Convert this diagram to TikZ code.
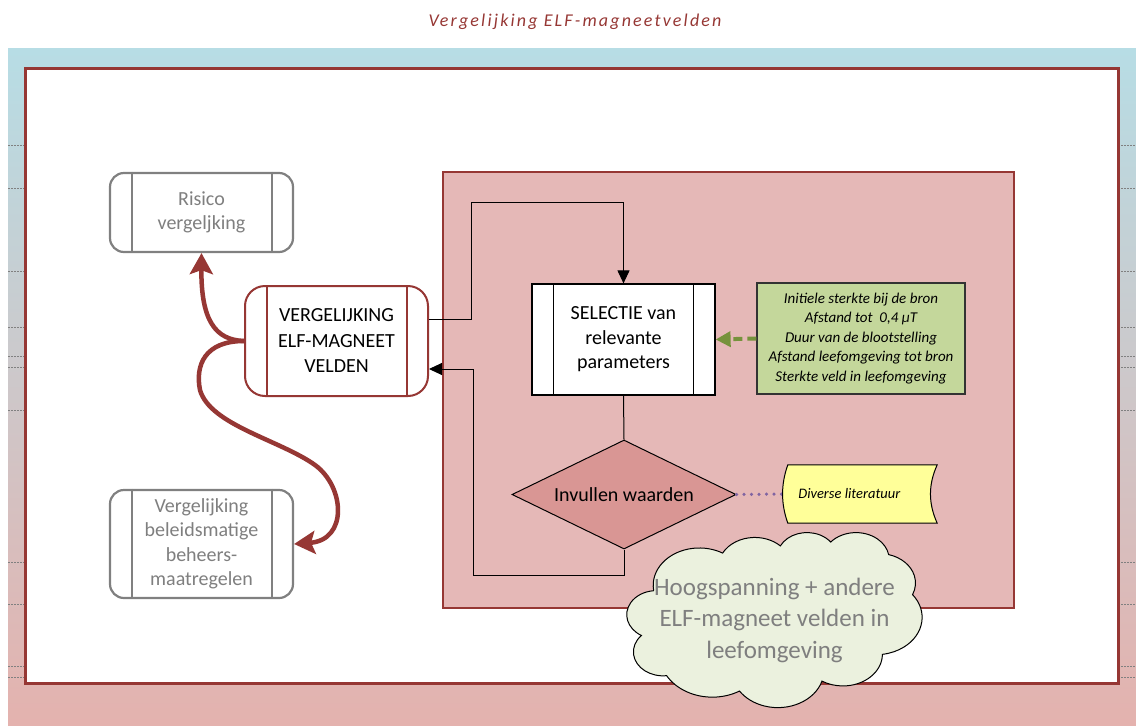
\documentclass[tikz,border=0pt]{standalone}
\usepackage{fontspec}
\setmainfont{Carlito}
\newfontfamily\titlefont[LetterSpace=12]{Carlito}
\usetikzlibrary{arrows.meta,shapes.geometric}

\definecolor{frame}{RGB}{150,55,52}
\definecolor{bgtop}{RGB}{183,221,229}
\definecolor{bgbot}{RGB}{228,178,174}
\definecolor{panel}{RGB}{229,184,183}
\definecolor{boxgray}{RGB}{128,128,128}
\definecolor{txtgray}{RGB}{127,127,127}
\definecolor{paramfill}{RGB}{196,215,155}
\definecolor{paramarrow}{RGB}{118,146,60}
\definecolor{diafill}{RGB}{217,150,148}
\definecolor{litfill}{RGB}{255,255,153}
\definecolor{litline}{RGB}{128,100,162}
\definecolor{cloudfill}{RGB}{235,241,222}

\begin{document}
\begin{tikzpicture}[x=1pt,y=-1pt,
  subgray/.style={rectangle, draw=boxgray, line width=2.2pt, rounded corners=14pt,
    fill=white, minimum width=183pt, inner sep=0pt, align=center, text=txtgray,
    font=\fontsize{20}{24.5}\selectfont},
  subred/.style={rectangle, draw=frame, line width=2pt, rounded corners=20pt,
    fill=white, minimum width=183pt, minimum height=110pt, inner sep=0pt,
    align=center, font=\fontsize{20}{25.5}\selectfont},
  subblack/.style={rectangle, draw=black, line width=1.2pt, fill=white,
    minimum width=183pt, minimum height=111pt, inner sep=0pt, align=center,
    font=\fontsize{20}{24.5}\selectfont},
  parambox/.style={rectangle, draw=black!80, line width=1.2pt, fill=paramfill,
    minimum width=208pt, minimum height=111pt, inner sep=0pt, align=center,
    font=\itshape\fontsize{15}{19.5}\selectfont},
  decide/.style={diamond, aspect=2.05, draw=black, line width=1pt, fill=diafill,
    minimum width=224pt, minimum height=109pt, inner sep=0pt,
    font=\fontsize{20}{24}\selectfont},
  flow/.style={draw=black, line width=1pt, -{Triangle[length=13pt,width=12pt]}},
  bigflow/.style={draw=frame, line width=4.5pt,
    -{Stealth[length=21pt,width=23pt,inset=4pt]}},
]
\useasboundingbox (0,0) rectangle (1136,726);

% page background with ruler marks
\shade[top color=bgtop, bottom color=bgbot] (8,48) rectangle (1136,726);
\foreach \yy in {145,188,271,327,356,367,410,562,604,666,677}
  \draw[boxgray, line width=0.6pt, dash pattern=on 2pt off 1pt] (8,\yy) -- (1136,\yy);

% outer frame and process panel
\draw[frame, line width=3pt, fill=white] (25,68) rectangle (1118,683);
\draw[frame, line width=2.5pt, fill=panel] (443,172) rectangle (1014,608);

% title
\node[font=\titlefont\itshape\fontsize{18}{22}\selectfont, text=frame] (title) at (575,22)
  {Vergelijking ELF-magneetvelden};

% boxes
\node[subgray, minimum height=79pt] (risk) at (201.5,212.5) {Risico\\vergeljking};
\node[subgray, minimum height=108pt] (beleid) at (201.5,544)
  {Vergelijking\\beleidsmatige\\beheers-\\maatregelen};
\node[subred] (verg) at (336.5,341) {VERGELIJKING\\ELF-MAGNEET\\VELDEN};
\node[subblack] (sel) at (623.5,339.5) {SELECTIE van\\relevante\\parameters};
\node[parambox] (param) at (861,338.5)
  {Initiele sterkte bij de bron\\Afstand tot~~0,4 \textmu T\\Duur van de blootstelling\\
   Afstand leefomgeving tot bron\\Sterkte veld in leefomgeving};
\node[decide] (dia) at (624,494.5) {Invullen waarden};

% side bars of the predefined-process boxes
\foreach \n in {risk,beleid}{
  \draw[boxgray, line width=2.2pt] ([xshift=23pt]\n.north west) -- ([xshift=23pt]\n.south west);
  \draw[boxgray, line width=2.2pt] ([xshift=-22pt]\n.north east) -- ([xshift=-22pt]\n.south east);
}
\draw[frame, line width=2pt] ([xshift=23pt]verg.north west) -- ([xshift=23pt]verg.south west);
\draw[frame, line width=2pt] ([xshift=-22pt]verg.north east) -- ([xshift=-22pt]verg.south east);
\draw[black, line width=1.2pt] ([xshift=22pt]sel.north west) -- ([xshift=22pt]sel.south west);
\draw[black, line width=1.2pt] ([xshift=-22pt]sel.north east) -- ([xshift=-22pt]sel.south east);

% literature store
\node[minimum width=149pt, minimum height=58pt, inner sep=0pt] (lit) at (862.5,494) {};
\draw[litline, line width=3.5pt, line cap=round, dash pattern=on 0pt off 7.5pt]
  (dia.east) -- ([xshift=-5pt]lit.west);
\draw[black, line width=1pt, fill=litfill]
  (lit.north west) -- (lit.north east)
  .. controls +(-9,20) and +(-9,-20) .. (lit.south east) -- (lit.south west)
  .. controls +(-7,-20) and +(-7,20) .. (lit.north west) -- cycle;
\node[anchor=west, font=\itshape\fontsize{14.5}{17}\selectfont] (littext)
  at ([xshift=7pt]lit.west) {Diverse literatuur};

% flow connectors
\coordinate (c1) at (471,202);
\coordinate (c2) at (473,575);
\draw[flow] ([yshift=22pt]verg.east) -| (c1) -| (sel.north);
\draw[draw=black, line width=1pt] (sel.south) -- (dia.north);
\draw[flow] (dia.south) |- (c2) |- ([yshift=-28pt]verg.east);
\draw[paramarrow, line width=4pt, dash pattern=on 9pt off 5pt,
  -{Triangle[length=15pt,width=15pt]}] (param.west) -- (sel.east);

% outcome arrows
\draw[bigflow] (verg.west) .. controls (215,340) and (201,320) .. (risk.south);
\draw[bigflow] (verg.west) .. controls (205,341) and (195,365) .. (200,390)
  .. controls (210,425) and (280,440) .. (315,465)
  .. controls (345,487) and (348,540) .. (beleid.east);

% environment cloud, outline built from eleven elliptic puffs (percent units)
\begin{scope}[xshift=627pt, yshift=-532pt, x=2.95pt, y=-1.75pt]
\draw[black, line width=1pt, fill=cloudfill] (9.028,33.264)
  arc[start angle=172.255, delta angle=128.115, x radius=15.632, y radius=21.273]
  arc[start angle=-152.04, delta angle=106.58, x radius=12.345, y radius=16.822]
  arc[start angle=-153.50, delta angle=116.16, x radius=10.104, y radius=13.762]
  arc[start angle=-139.70, delta angle=129.49, x radius=11.243, y radius=15.266]
  arc[start angle=-74.77, delta angle=97.98, x radius=12.345, y radius=16.836]
  arc[start angle=-37.51, delta angle=119.37, x radius=15.683, y radius=21.343]
  arc[start angle=0.46, delta angle=121.52, x radius=13.391, y radius=18.211]
  arc[start angle=16.84, delta angle=129.39, x radius=15.630, y radius=21.331]
  arc[start angle=58.99, delta angle=91.21, x radius=17.870, y radius=24.405]
  arc[start angle=83.31, delta angle=139.80, x radius=10.093, y radius=13.699]
  arc[start angle=120.35, delta angle=143.76, x radius=10.058, y radius=13.762]
  -- cycle;
\end{scope}
\node[text=txtgray, align=center, font=\fontsize{25}{31.5}\selectfont] (envtext)
  at (774.5,620) {Hoogspanning + andere\\ELF-magneet velden in\\leefomgeving};
\end{tikzpicture}
\end{document}
